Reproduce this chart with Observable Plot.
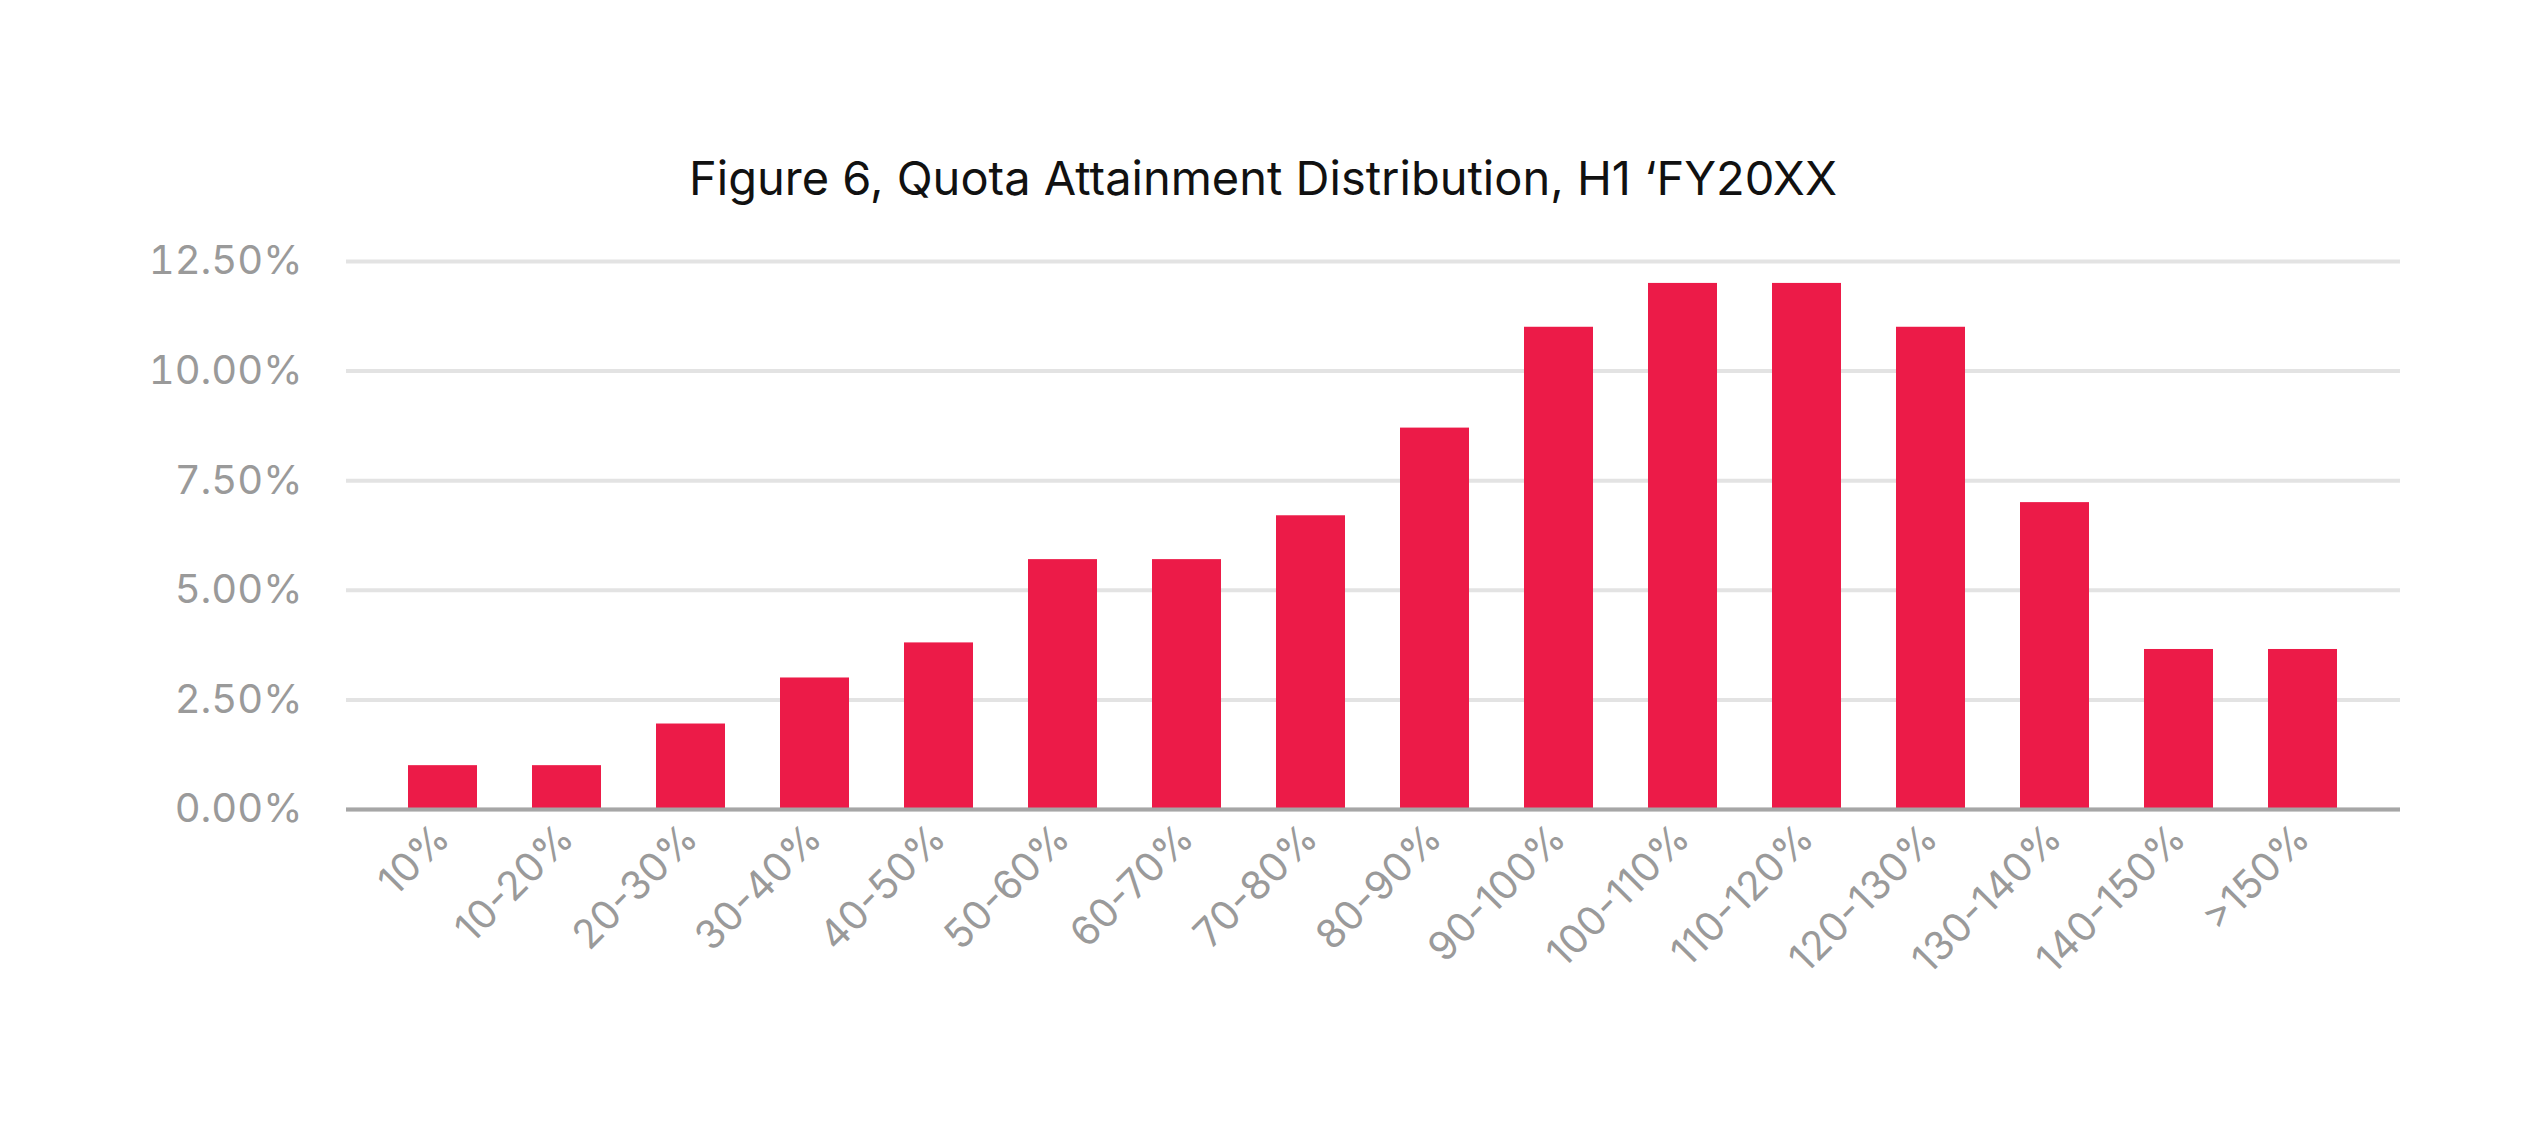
<!DOCTYPE html>
<html><head><meta charset="utf-8">
<script src="https://cdn.jsdelivr.net/npm/d3@7"></script>
<script src="https://cdn.jsdelivr.net/npm/@observablehq/plot@0.6"></script>
<style>
body{margin:0;background:#fff;font-family:Inter,"Noto Sans",sans-serif;}
#title{padding-top:148px;height:82px;text-align:center;font-size:47px;color:#111;line-height:60px;width:2526px;}
</style></head><body>
<div id="title">Figure 6, Quota Attainment Distribution, H1 ‘FY20XX</div>
<div id="chart"></div>
<script>
const categories = ["10%","10-20%","20-30%","30-40%","40-50%","50-60%","60-70%","70-80%","80-90%","90-100%","100-110%","110-120%","120-130%","130-140%","140-150%",">150%"];
const values = [0.010,0.010,0.0195,0.030,0.038,0.057,0.057,0.067,0.087,0.110,0.120,0.120,0.110,0.070,0.0365,0.0365];
const yTicks = [0,0.025,0.05,0.075,0.10,0.125];
const data = categories.map((c,i)=>({c, v: values[i]}));
const chart = Plot.plot({
  width: 2526, height: 904,
  marginLeft: 346, marginRight: 126, marginTop: 31, marginBottom: 325,
  style: {fontFamily: "Inter, 'Noto Sans', sans-serif", fontSize: "40px", color: "#9a9a9a"},
  x: {domain: categories, padding: 0.44, label: null, tickSize: 0, tickRotate: -45, tickPadding: 22},
  y: {domain: [0, 0.125], ticks: yTicks, tickFormat: d3.format(".2%"), label: null, tickSize: 0, tickPadding: 44},
  marks: [
    Plot.gridY(yTicks, {stroke: "#e3e3e3", strokeWidth: 4, strokeOpacity: 1}),
    Plot.barY(data, {x: "c", y: "v", fill: "#EC1B48"}),
    Plot.ruleY([0], {stroke: "#a6a6a6", strokeWidth: 4})
  ]
});
document.getElementById("chart").appendChild(chart);
</script>
</body></html>
